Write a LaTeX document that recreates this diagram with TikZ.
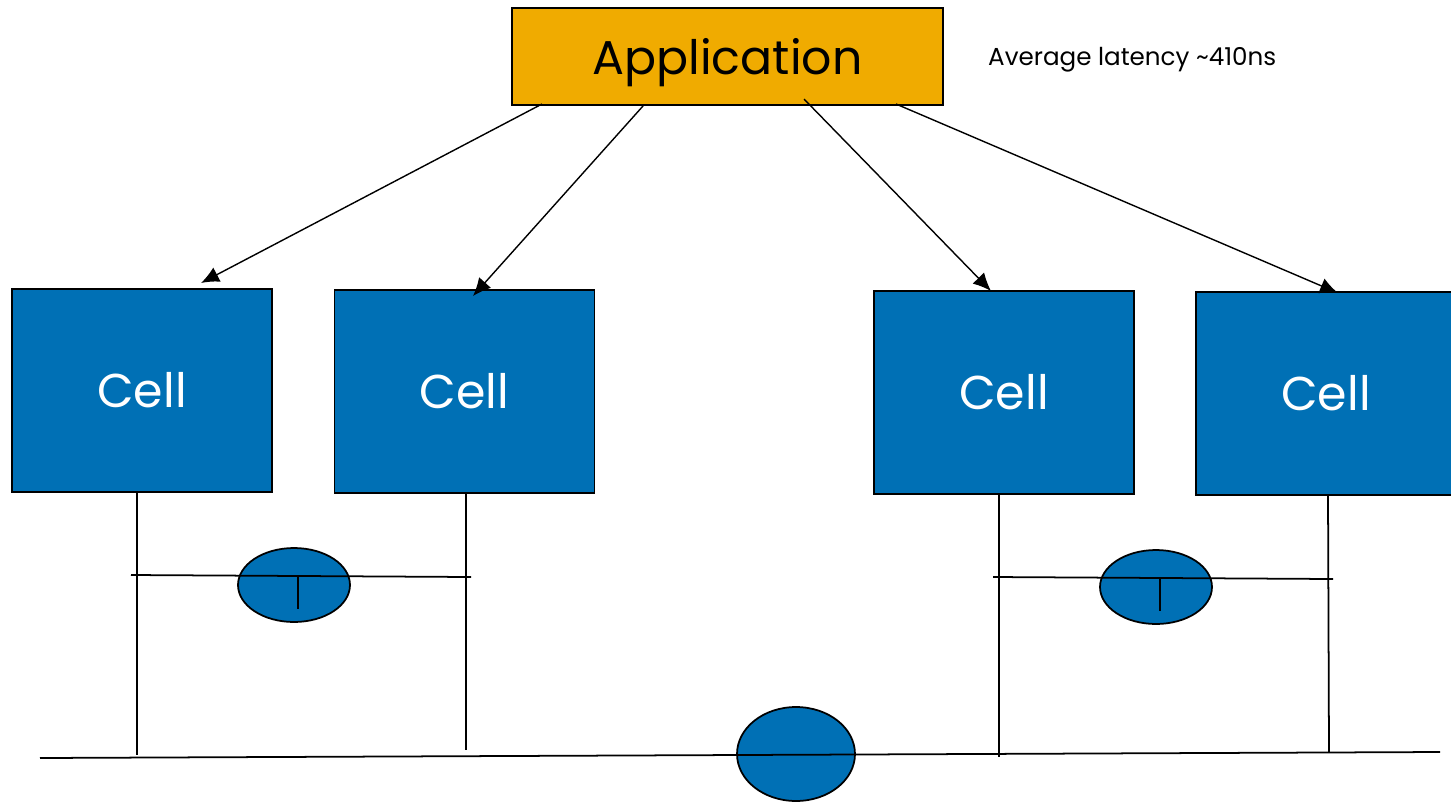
\documentclass[tikz,border=0pt]{standalone}
\usepackage{fontspec}
\setmainfont{Poppins}
\usepackage{tikz}
\usetikzlibrary{arrows.meta,positioning,shapes.geometric}
\definecolor{appyellow}{HTML}{F0AB00}
\definecolor{cellblue}{HTML}{0070B5}
\tikzset{%
	appbox/.style   = {draw, rectangle, fill=appyellow, line width=1pt, minimum width=8.62cm, minimum height=1.94cm, text depth=0pt, font=\fontsize{27}{32}\selectfont},
	cellbox/.style  = {draw, rectangle, fill=cellblue, line width=1pt, minimum width=5.2cm, minimum height=4.06cm, text=white, font=\fontsize{27}{32}\selectfont},
	switch/.style   = {draw, ellipse, fill=cellblue, line width=1pt, minimum width=2.24cm, minimum height=1.48cm},
	bigswitch/.style= {switch, minimum width=2.36cm, minimum height=1.88cm},
	wire/.style     = {line width=1pt},
	arrow/.style    = {line width=0.8pt,-{Latex[length=3.6mm,width=3.2mm]}},
}
\begin{document}
\begin{tikzpicture}[x=0.02cm,y=-0.02cm]
	\useasboundingbox (0,0) rectangle (1451,802);
	\node [appbox] (app) at (727.5,56.5) {Application};
	\node [anchor=west,font=\fontsize{14}{16}\selectfont] (lat) at (982,60) {Average latency \textasciitilde410ns};
	
	\node [cellbox] (c1) at (142,390.5) {Cell};
	\node [cellbox] (c2) at (464.5,391.5) {Cell};
	\node [cellbox] (c3) at (1004,392.5) {Cell};
	\node [cellbox] (c4) at (1326,393.5) {Cell};
	
	% switches sit under the wires
	\node [switch] (s1) at (294,585) {};
	\node [switch] (s2) at (1156,587) {};
	\node [bigswitch] (s0) at (796,754) {};
	
	\draw[arrow] (542,104) -- (201,283);
	\draw[arrow] (643,106) -- (473,296);
	\draw[arrow] (804,99) -- (991,291);
	\draw[arrow] (896,104) -- (1338,293);
	
	% bus and links
	\coordinate (busl) at (40,758);
	\coordinate (busr) at (1440,752);
	\draw[wire] (busl) -- (busr);
	\draw[wire] (137,492) -- (137,755);
	\draw[wire] (466,493) -- (466,750);
	\draw[wire] (999,494) -- (999,757);
	\draw[wire] (1328,495) -- (1329,752);
	\draw[wire] (131,575) -- (471,577);
	\draw[wire] (993,577) -- (1333,579);
	\draw[wire] (298,577) -- (298,609);
	\draw[wire] (1160,579) -- (1160,611);
\end{tikzpicture}
\end{document}
